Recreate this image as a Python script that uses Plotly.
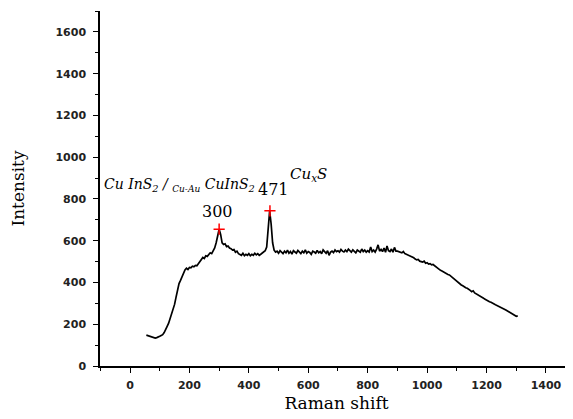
import plotly.graph_objects as go

raman_shift = list(range(55, 1306, 5))
intensity = [
    148, 146, 143, 140, 137, 135, 134, 136, 138, 142,   # 55-100
    146, 150, 160, 172, 190, 205, 225, 245, 268, 295,   # 105-150
    330, 365, 395, 410, 427, 445, 460, 468, 462, 472,   # 155-200
    470, 478, 475, 482, 480, 490, 500, 508, 520, 515,   # 205-250
    528, 525, 535, 542, 538, 552, 565, 590, 625, 655,   # 255-300
    630, 590, 582, 585, 572, 575, 565, 562, 555, 558,   # 305-350
    545, 550, 538, 535, 530, 540, 528, 535, 530, 538,   # 355-400
    528, 535, 530, 540, 532, 538, 530, 535, 540, 545,   # 405-450
    552, 570, 640, 743, 680, 590, 555, 545, 550, 540,   # 455-500
    552, 545, 538, 550, 542, 555, 540, 548, 536, 552,   # 505-550
    544, 540, 553, 545, 538, 550, 542, 556, 540, 548,   # 555-600
    544, 535, 550, 546, 540, 554, 542, 548, 538, 556,   # 605-650
    545, 540, 552, 530, 545, 550, 543, 556, 548, 552,   # 655-700
    545, 558, 550, 546, 555, 548, 560, 550, 545, 556,   # 705-750
    548, 542, 555, 550, 545, 560, 548, 555, 545, 552,   # 755-800
    546, 570, 548, 555, 545, 560, 580, 550, 558, 548,   # 805-850
    565, 545, 575, 552, 548, 560, 545, 568, 550, 550,   # 855-900
    548, 545, 542, 548, 538, 535, 532, 528, 525, 520,   # 905-950
    518, 512, 508, 510, 502, 500, 498, 502, 492, 495,   # 955-1000
    488, 490, 484, 486, 480, 472, 468, 462, 458, 455,   # 1005-1050
    450, 446, 442, 438, 436, 430, 422, 415, 410, 405,   # 1055-1100
    398, 392, 388, 384, 378, 375, 372, 365, 362, 356,   # 1105-1150
    360, 350, 345, 340, 335, 332, 328, 324, 320, 315,   # 1155-1200
    312, 308, 305, 300, 297, 293, 290, 287, 284, 280,   # 1205-1250
    276, 272, 268, 264, 258, 254, 250, 246, 242, 238,   # 1255-1300
    240,                                                # 1305
]

peak_x = [300, 471]
peak_y = [655, 743]

x_ticks = [0, 200, 400, 600, 800, 1000, 1200, 1400]
y_ticks = [0, 200, 400, 600, 800, 1000, 1200, 1400, 1600]

fig = go.Figure()
fig.add_trace(go.Scatter(x=raman_shift, y=intensity, mode="lines",
                         line=dict(color="black", width=1.7), showlegend=False))
fig.add_trace(go.Scatter(x=peak_x, y=peak_y, mode="markers",
                         marker=dict(symbol="cross-thin", size=8, line=dict(color="red", width=1.5)),
                         showlegend=False))

serif = "DejaVu Serif"
ann_font = dict(family=serif, size=14, color="black")
fig.add_annotation(x=-93, y=867, xref="x", yref="y", xanchor="left", yanchor="middle",
                   text="<i>Cu InS<sub>2</sub> / <sub><span style='font-size:9px'>Cu-Au</span></sub> CuInS<sub>2</sub></i>",
                   showarrow=False, font=ann_font)
fig.add_annotation(x=293, y=740, xref="x", yref="y", text="300", showarrow=False,
                   font=dict(family=serif, size=16, color="black"))
fig.add_annotation(x=484, y=845, xref="x", yref="y", text="471", showarrow=False,
                   font=dict(family=serif, size=16, color="black"))
fig.add_annotation(x=532, y=915, xref="x", yref="y", xanchor="left", text="<i>Cu<sub>x</sub>S</i>",
                   showarrow=False, font=dict(family=serif, size=15, color="black"))

tickfont = dict(family="DejaVu Sans", size=11, color="#222", weight="bold")
fig.update_layout(
    width=565, height=411,
    margin=dict(l=92, r=0, t=3, b=53),
    paper_bgcolor="white", plot_bgcolor="white",
    xaxis=dict(range=[-101, 1491], tickvals=x_ticks, ticks="outside", ticklen=5,
               tickwidth=1.2, tickcolor="black", showline=True, linecolor="black", linewidth=1.5,
               showgrid=False, zeroline=False, tickfont=tickfont, ticklabelstandoff=3,
               minor=dict(dtick=100, tick0=0, ticks="outside", ticklen=3, tickcolor="black", showgrid=False),
               title=dict(text="Raman shift", font=dict(family=serif, size=17, color="black"), standoff=6)),
    yaxis=dict(range=[0, 1700], tickvals=y_ticks, ticks="outside", ticklen=5,
               tickwidth=1.2, tickcolor="black", showline=True, linecolor="black", linewidth=1.5,
               showgrid=False, zeroline=False, tickfont=tickfont, ticklabelstandoff=5,
               minor=dict(dtick=100, tick0=0, ticks="outside", ticklen=3, tickcolor="black", showgrid=False),
               title=dict(text="Intensity", font=dict(family=serif, size=17, color="black"), standoff=26)),
)

fig.write_html("out.html")
